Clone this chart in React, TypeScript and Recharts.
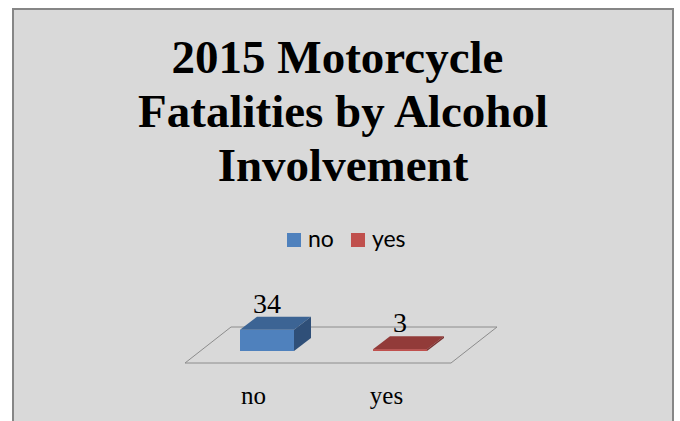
import React from 'react';
import * as R from 'recharts';
import { BarChart, Bar, XAxis, YAxis, LabelList } from 'recharts';

const categories = ['no', 'yes'];
const values = [34, 3];
const colors = ['#4f81bd', '#c0504d'];
const topColors = ['#3c6494', '#923b39'];
const sideColors = ['#2f4f78', '#7a302f'];
const titleLines = ['2015 Motorcycle', 'Fatalities by Alcohol', 'Involvement'];

const data = categories.map((name, i) => ({ name, value: values[i] }));

// depth offset of each box
const DX = 17;
const DY = 13;

const MARGIN = { top: 326, right: 214, bottom: 0, left: 200 };
const AXIS_H = 70;

const Box3D = (props: any) => {
  const { x, y, width, height, index } = props;
  const w = width;
  const h = Math.max(height, 0);
  return (
    <g>
      <rect x={x} y={y} width={w} height={h} fill={colors[index]} />
      <polygon
        points={`${x},${y} ${x + DX},${y - DY} ${x + w + DX},${y - DY} ${x + w},${y}`}
        fill={topColors[index]}
      />
      <polygon
        points={`${x + w},${y} ${x + w + DX},${y - DY} ${x + w + DX},${y + h - DY} ${x + w},${y + h}`}
        fill={sideColors[index]}
      />
    </g>
  );
};

// floor of the 3d plot, drawn from the plot area
const Floor = () => {
  const hook: any = (R as any).usePlotArea || (R as any).useOffset;
  const area: any = hook ? hook() : null;
  const left = area ? (area.x ?? area.left) : MARGIN.left;
  const top = area ? (area.y ?? area.top) : MARGIN.top;
  const width = area?.width ?? 680 - MARGIN.left - MARGIN.right;
  const height = area?.height ?? 421 - MARGIN.top - AXIS_H;
  const base = top + height;
  const pts = [
    [left - 15, base + 12],
    [left + width - 15, base + 12],
    [left + width + 31, base - 24],
    [left + 31, base - 24],
  ];
  return (
    <polygon
      points={pts.map((p) => p.join(',')).join(' ')}
      fill="none"
      stroke="#8c8c8c"
      strokeWidth={1}
    />
  );
};

const CategoryTick = (props: any) => {
  const { x, y, payload } = props;
  return (
    <text
      x={x - 13}
      y={y}
      dy={45}
      textAnchor="middle"
      fontFamily="'Liberation Serif', serif"
      fontSize={25}
      fill="#000"
    >
      {payload.value}
    </text>
  );
};

const ValueLabel = (props: any) => {
  const { x, y, width, value } = props;
  return (
    <text
      x={x + width / 2}
      y={y - DY - 4}
      textAnchor="middle"
      fontFamily="'Liberation Serif', serif"
      fontSize={28}
      fill="#000"
    >
      {value}
    </text>
  );
};

const ChartLegend = () => (
  <div
    style={{
      position: 'absolute',
      top: 224,
      left: 287,
      fontFamily: 'Lato, sans-serif',
      fontSize: 23,
      lineHeight: '28px',
      whiteSpace: 'nowrap',
      color: '#000',
    }}
  >
    {categories.map((c, i) => (
      <span key={c} style={{ marginRight: i === 0 ? 17 : 0 }}>
        <span
          style={{
            display: 'inline-block',
            width: 14,
            height: 14,
            background: colors[i],
            marginRight: 7,
          }}
        />
        {c}
      </span>
    ))}
  </div>
);

export default function App() {
  return (
    <div
      style={{
        position: 'absolute',
        left: 0,
        top: 0,
        width: 680,
        height: 421,
        overflow: 'hidden',
        background: '#fff',
      }}
    >
      <div
        style={{
          position: 'absolute',
          left: 12,
          top: 8,
          width: 658,
          height: 440,
          border: '2px solid #868686',
          background: '#d9d9d9',
        }}
      />
      <div
        style={{
          position: 'absolute',
          left: 12,
          top: 30,
          width: 662,
          textAlign: 'center',
          fontFamily: "'Liberation Serif', serif",
          fontWeight: 'bold',
          fontSize: 47,
          lineHeight: '54px',
          color: '#000',
        }}
      >
        {titleLines.map((l, i) => (
          <div key={l} style={{ paddingRight: i === 0 ? 11 : 0 }}>
            {l}
          </div>
        ))}
      </div>
      <ChartLegend />
      <div style={{ position: 'absolute', left: 0, top: 0 }}>
        <BarChart width={680} height={421} data={data} margin={MARGIN}>
          <Floor />
          <XAxis
            dataKey="name"
            height={AXIS_H}
            axisLine={false}
            tickLine={false}
            tick={<CategoryTick />}
            interval={0}
          />
          <YAxis hide domain={[0, 40]} />
          <Bar dataKey="value" barSize={54} shape={<Box3D />} isAnimationActive={false}>
            <LabelList dataKey="value" content={<ValueLabel />} />
          </Bar>
        </BarChart>
      </div>
    </div>
  );
}
